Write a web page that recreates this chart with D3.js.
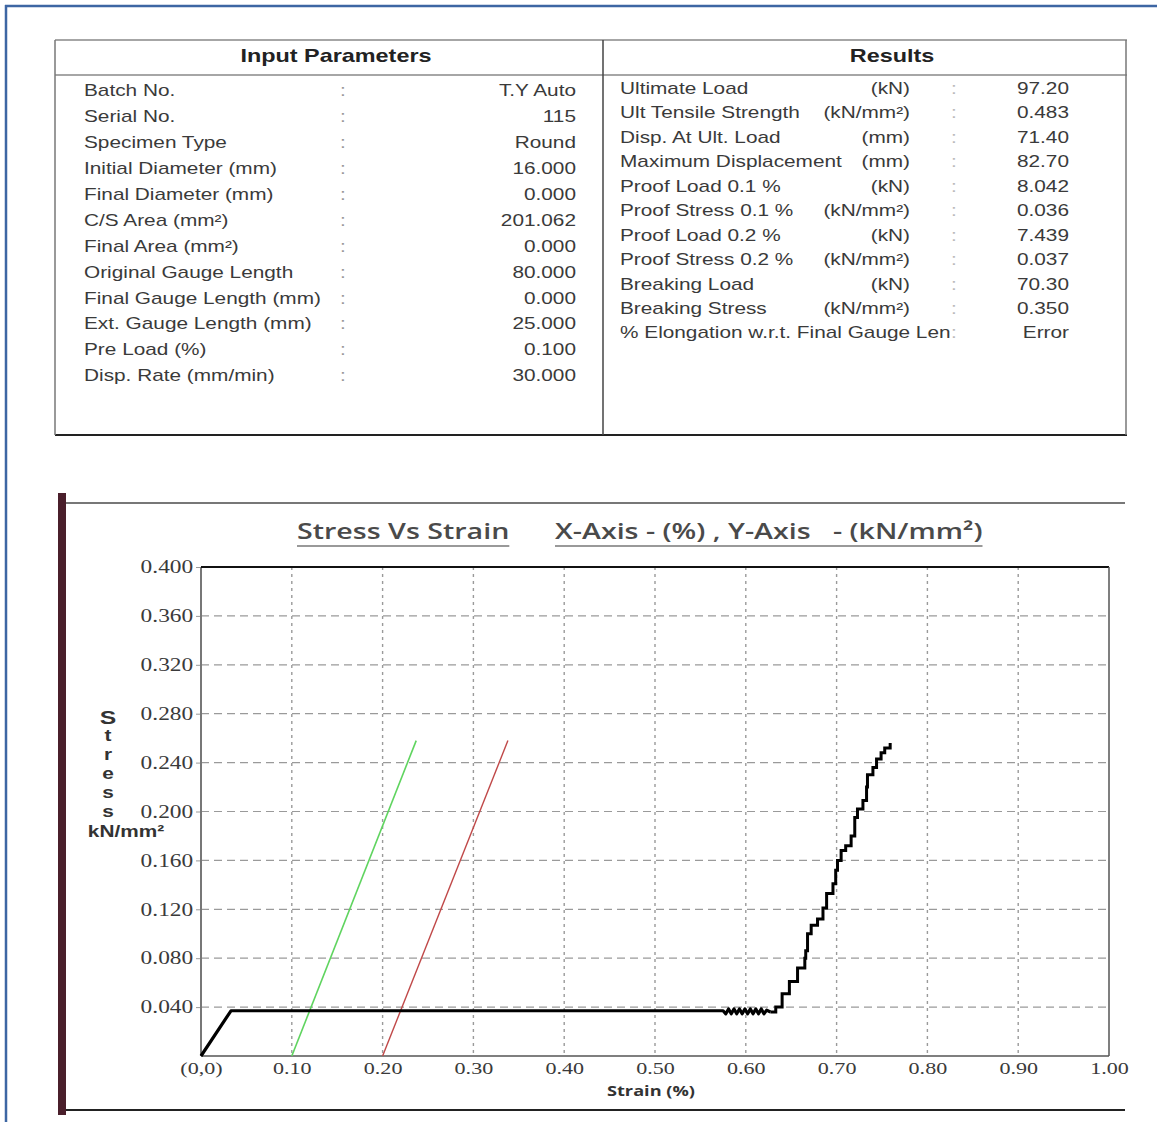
<!DOCTYPE html>
<html lang="en">
<head>
  <meta charset="UTF-8">
  <title>Stress Vs Strain</title>
  <script src="https://d3js.org/d3.v7.min.js"></script>
  <style>
    body { margin: 0; background: #fff; }
    svg { display: block; }
  </style>
</head>
<body>

<div id="report"></div>

<script>
  // ---- data ----
  const inputLabels = ["Batch No.", "Serial No.", "Specimen Type", "Initial Diameter (mm)",
    "Final Diameter (mm)", "C/S Area (mm²)", "Final Area (mm²)", "Original Gauge Length",
    "Final Gauge Length (mm)", "Ext. Gauge Length (mm)", "Pre Load (%)", "Disp. Rate (mm/min)"];
  const inputValues = ["T.Y Auto", "115", "Round", "16.000", "0.000", "201.062", "0.000",
    "80.000", "0.000", "25.000", "0.100", "30.000"];

  const resultLabels = ["Ultimate Load", "Ult Tensile Strength", "Disp. At Ult. Load",
    "Maximum Displacement", "Proof Load 0.1 %", "Proof Stress 0.1 %", "Proof Load 0.2 %",
    "Proof Stress 0.2 %", "Breaking Load", "Breaking Stress", "% Elongation w.r.t. Final Gauge Len"];
  const resultUnits = ["(kN)", "(kN/mm²)", "(mm)", "(mm)", "(kN)", "(kN/mm²)", "(kN)",
    "(kN/mm²)", "(kN)", "(kN/mm²)", ""];
  const resultValues = ["97.20", "0.483", "71.40", "82.70", "8.042", "0.036", "7.439",
    "0.037", "70.30", "0.350", "Error"];

  const xTicks = [0, 0.1, 0.2, 0.3, 0.4, 0.5, 0.6, 0.7, 0.8, 0.9, 1.0];
  const xTickLabels = ["(0,0)", "0.10", "0.20", "0.30", "0.40", "0.50", "0.60", "0.70", "0.80", "0.90", "1.00"];
  const yTicks = [0.04, 0.08, 0.12, 0.16, 0.20, 0.24, 0.28, 0.32, 0.36, 0.40];

  // strain (%) , stress (kN/mm²)
  const curveFlat = [[0, 0], [0.033, 0.037], [0.2, 0.037], [0.4, 0.037], [0.575, 0.037],
    [0.578, 0.0345], [0.581, 0.0385], [0.584, 0.0345], [0.587, 0.0385], [0.590, 0.0345],
    [0.593, 0.0385], [0.596, 0.0345], [0.599, 0.0385], [0.602, 0.0345], [0.605, 0.0385],
    [0.608, 0.0345], [0.611, 0.0385], [0.614, 0.0345], [0.617, 0.0385], [0.620, 0.0345],
    [0.623, 0.0375], [0.627, 0.036]];
  const curveRise = [[0.627, 0.036], [0.633, 0.040], [0.64, 0.051], [0.648, 0.061], [0.657, 0.072],
    [0.665, 0.080], [0.666, 0.086], [0.668, 0.100], [0.672, 0.107], [0.679, 0.112],
    [0.685, 0.121], [0.689, 0.133], [0.696, 0.141], [0.699, 0.152], [0.701, 0.160],
    [0.705, 0.168], [0.710, 0.172], [0.716, 0.180], [0.720, 0.195], [0.723, 0.202],
    [0.729, 0.209], [0.733, 0.220], [0.734, 0.230], [0.740, 0.236], [0.744, 0.243],
    [0.749, 0.248], [0.753, 0.252], [0.759, 0.256]];
  const offset01 = [[0.10, 0], [0.237, 0.258]];
  const offset02 = [[0.20, 0], [0.338, 0.258]];

  // ---- page ----
  const width = 1166, height = 1122;
  const SX = 1.3; // the original screenshot is stretched sideways

  const svg = d3.select("#report").append("svg")
      .attr("width", width)
      .attr("height", height);

  svg.append("rect").attr("width", width).attr("height", height).attr("fill", "#fff");

  // helper for stretched text
  function txt(g, x, y, s, o = {}) {
    return g.append("text")
        .attr("transform", `translate(${x},${y}) scale(${SX},1)`)
        .attr("dy", "0.35em")
        .attr("text-anchor", o.anchor || "start")
        .attr("font-family", o.font || "'Liberation Sans', Arial, sans-serif")
        .attr("font-size", o.size || 16)
        .attr("font-weight", o.weight || "normal")
        .attr("fill", o.color || "#3a3a3a")
        .style("white-space", "pre")
        .text(s);
  }

  // outer blue frame (top and left)
  svg.append("line").attr("x1", 5).attr("x2", 1157).attr("y1", 6).attr("y2", 6)
      .attr("stroke", "#3d66a3").attr("stroke-width", 2.5);
  svg.append("line").attr("x1", 6).attr("x2", 6).attr("y1", 5).attr("y2", height)
      .attr("stroke", "#3d66a3").attr("stroke-width", 2.5);

  // ---- parameter tables ----
  const tbl = svg.append("g");
  tbl.append("line").attr("x1", 55).attr("x2", 1127).attr("y1", 40).attr("y2", 40).attr("stroke", "#888").attr("stroke-width", 1.5);
  tbl.append("line").attr("x1", 55).attr("x2", 1127).attr("y1", 75).attr("y2", 75).attr("stroke", "#888").attr("stroke-width", 1.5);
  tbl.append("line").attr("x1", 55).attr("x2", 1127).attr("y1", 435).attr("y2", 435).attr("stroke", "#222").attr("stroke-width", 2);
  tbl.append("line").attr("x1", 55).attr("x2", 55).attr("y1", 40).attr("y2", 435).attr("stroke", "#777").attr("stroke-width", 1.5);
  tbl.append("line").attr("x1", 603).attr("x2", 603).attr("y1", 40).attr("y2", 435).attr("stroke", "#444").attr("stroke-width", 1.5);
  tbl.append("line").attr("x1", 1126).attr("x2", 1126).attr("y1", 40).attr("y2", 435).attr("stroke", "#777").attr("stroke-width", 1.5);

  txt(tbl, 336, 56, "Input Parameters", {anchor: "middle", size: 18, weight: "bold", color: "#222"});
  txt(tbl, 892, 56, "Results", {anchor: "middle", size: 18, weight: "bold", color: "#222"});

  const rowIn = d3.scaleLinear().domain([0, inputLabels.length - 1]).range([90.7, 375.7]);
  inputLabels.forEach((lab, i) => {
    txt(tbl, 84, rowIn(i), lab);
    txt(tbl, 343, rowIn(i), ":", {anchor: "middle", color: "#999"});
    txt(tbl, 576, rowIn(i), inputValues[i], {anchor: "end"});
  });

  const rowRes = d3.scaleLinear().domain([0, resultLabels.length - 1]).range([88.3, 332.8]);
  resultLabels.forEach((lab, i) => {
    txt(tbl, 620, rowRes(i), lab);
    if (resultUnits[i]) txt(tbl, 910, rowRes(i), resultUnits[i], {anchor: "end"});
    txt(tbl, 954, rowRes(i), ":", {anchor: "middle", color: "#bbb"});
    txt(tbl, 1069, rowRes(i), resultValues[i], {anchor: "end"});
  });

  // ---- chart frame ----
  svg.append("rect").attr("x", 58).attr("y", 493).attr("width", 8).attr("height", 622).attr("fill", "#4a1f2b");
  svg.append("line").attr("x1", 66).attr("x2", 1125).attr("y1", 503).attr("y2", 503).attr("stroke", "#777").attr("stroke-width", 2);
  svg.append("line").attr("x1", 66).attr("x2", 1125).attr("y1", 1110).attr("y2", 1110).attr("stroke", "#222").attr("stroke-width", 2);

  // title
  const titleFont = {font: "'Open Sans', sans-serif", size: 22, weight: 600, color: "#4a4a4a"};
  const t1 = txt(svg, 297, 531, "Stress Vs Strain", titleFont);
  const t2 = txt(svg, 555, 531, "X-Axis - (%) , Y-Axis   - (kN/mm²)", titleFont);
  [[297, t1], [555, t2]].forEach(([x0, t]) => {
    const w = t.node().getComputedTextLength() * SX;
    svg.append("line").attr("x1", x0).attr("x2", x0 + w).attr("y1", 546).attr("y2", 546)
        .attr("stroke", "#777").attr("stroke-width", 1.5);
  });

  // ---- plot ----
  const x = d3.scaleLinear().domain([0, 1]).range([201, 1109]);
  const y = d3.scaleLinear().domain([0, 0.4]).range([1056, 567]);

  // grid
  svg.append("g").selectAll("line")
      .data(yTicks.filter(d => d < 0.4))
      .join("line")
      .attr("x1", x(0)).attr("x2", x(1))
      .attr("y1", d => y(d)).attr("y2", d => y(d))
      .attr("stroke", "#9a9a9a").attr("stroke-width", 1.2).attr("stroke-dasharray", "8,5");
  svg.append("g").selectAll("line")
      .data(xTicks.filter(d => d > 0 && d < 1))
      .join("line")
      .attr("x1", d => x(d)).attr("x2", d => x(d))
      .attr("y1", y(0.4)).attr("y2", y(0))
      .attr("stroke", "#9a9a9a").attr("stroke-width", 1.4).attr("stroke-dasharray", "3,4");

  // axes
  const yAxis = svg.append("g")
      .attr("transform", `translate(${x(0)},0)`)
      .call(d3.axisLeft(y).tickValues(yTicks).tickFormat(d3.format(".3f")).tickSize(5).tickPadding(1));
  yAxis.select(".domain").remove();
  yAxis.selectAll(".tick line").attr("stroke", "#999");
  yAxis.selectAll(".tick text")
      .attr("transform", `scale(${SX},1)`)
      .attr("font-family", "'Liberation Serif', 'Times New Roman', serif")
      .attr("font-size", 18).attr("fill", "#3a3a3a");

  const xAxis = svg.append("g")
      .attr("transform", `translate(0,${y(0)})`)
      .call(d3.axisBottom(x).tickValues(xTicks).tickFormat((d, i) => xTickLabels[i]).tickSize(0).tickPadding(6));
  xAxis.select(".domain").remove();
  xAxis.selectAll(".tick text")
      .attr("transform", `scale(${SX},1)`)
      .attr("font-family", "'Liberation Serif', 'Times New Roman', serif")
      .attr("font-size", 17).attr("fill", "#3a3a3a");

  // plot border
  svg.append("line").attr("x1", x(0)).attr("x2", x(0)).attr("y1", y(0.4)).attr("y2", y(0)).attr("stroke", "#777").attr("stroke-width", 2);
  svg.append("line").attr("x1", x(0)).attr("x2", x(1)).attr("y1", y(0.4)).attr("y2", y(0.4)).attr("stroke", "#111").attr("stroke-width", 2);
  svg.append("line").attr("x1", x(1)).attr("x2", x(1)).attr("y1", y(0.4)).attr("y2", y(0)).attr("stroke", "#555").attr("stroke-width", 1.5);
  svg.append("line").attr("x1", x(0)).attr("x2", x(1)).attr("y1", y(0)).attr("y2", y(0)).attr("stroke", "#555").attr("stroke-width", 1.5);

  // axis titles
  txt(svg, 651, 1091, "Strain (%)", {anchor: "middle", font: "'Open Sans', sans-serif", size: 14, weight: "bold", color: "#333"});

  const yLabLetters = ["S", "t", "r", "e", "s", "s"];
  const letterY = d3.scaleLinear().domain([0, yLabLetters.length - 1]).range([717, 811]);
  yLabLetters.forEach((c, i) => {
    txt(svg, 108, letterY(i), c, {anchor: "middle", size: i === 0 ? 19 : 16, weight: "bold", color: "#333"});
  });
  txt(svg, 126, 831, "kN/mm²", {anchor: "middle", size: 16, weight: "bold", color: "#333"});

  // offset lines
  const line = d3.line().x(d => x(d[0])).y(d => y(d[1]));
  svg.append("path").attr("d", line(offset01)).attr("fill", "none").attr("stroke", "#5fd45f").attr("stroke-width", 1.6);
  svg.append("path").attr("d", line(offset02)).attr("fill", "none").attr("stroke", "#c04848").attr("stroke-width", 1.4);

  // stress-strain curve
  svg.append("path").attr("d", line(curveFlat)).attr("fill", "none")
      .attr("stroke", "#000").attr("stroke-width", 3.2).attr("stroke-linejoin", "round");
  svg.append("path").attr("d", line.curve(d3.curveStepAfter)(curveRise)).attr("fill", "none")
      .attr("stroke", "#000").attr("stroke-width", 3).attr("stroke-linejoin", "miter");
</script>

</body>
</html>
